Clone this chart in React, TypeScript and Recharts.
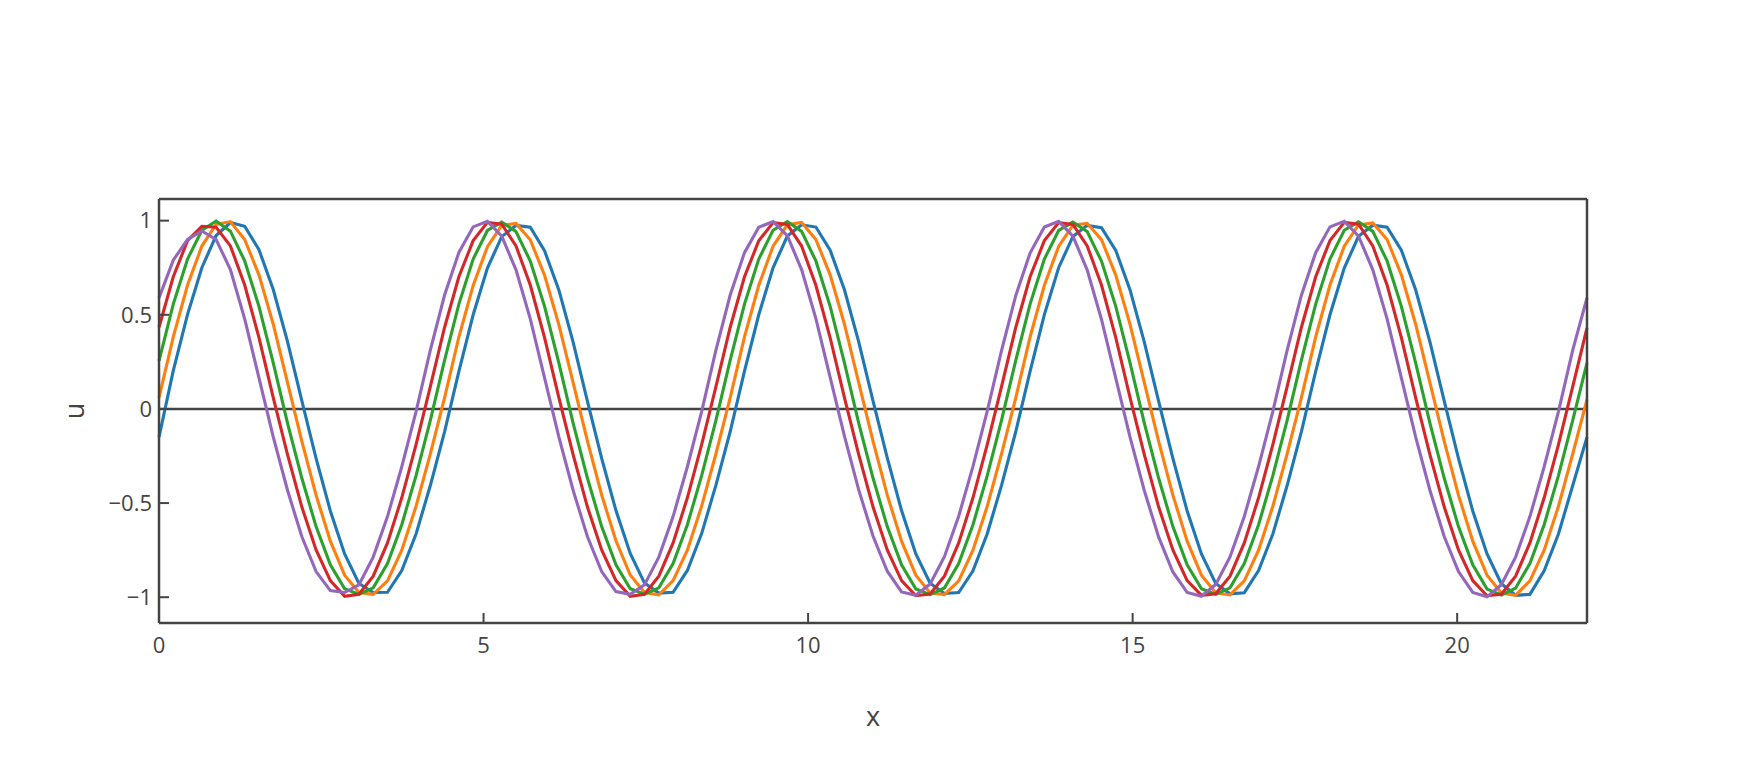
import { LineChart, Line, XAxis, YAxis, ReferenceLine } from "recharts";

// sample positions along x
const xs = [
  0, 0.22, 0.44, 0.66, 0.88, 1.1, 1.32, 1.54, 1.76, 1.98, 2.2, 2.42, 2.64, 2.86, 3.08, 3.3, 3.52, 3.74, 3.96, 4.18,
  4.4, 4.62, 4.84, 5.06, 5.28, 5.5, 5.72, 5.94, 6.16, 6.38, 6.6, 6.82, 7.04, 7.26, 7.48, 7.7, 7.92, 8.14, 8.36, 8.58,
  8.8, 9.02, 9.24, 9.46, 9.68, 9.9, 10.12, 10.34, 10.56, 10.78, 11, 11.22, 11.44, 11.66, 11.88, 12.1, 12.32, 12.54, 12.76, 12.98,
  13.2, 13.42, 13.64, 13.86, 14.08, 14.3, 14.52, 14.74, 14.96, 15.18, 15.4, 15.62, 15.84, 16.06, 16.28, 16.5, 16.72, 16.94, 17.16, 17.38,
  17.6, 17.82, 18.04, 18.26, 18.48, 18.7, 18.92, 19.14, 19.36, 19.58, 19.8, 20.02, 20.24, 20.46, 20.68, 20.9, 21.12, 21.34, 21.56, 21.78,
  22,
];

const blue = [
  -0.15, 0.203, 0.502, 0.75, 0.921, 0.99, 0.97, 0.846, 0.634, 0.357, 0.044, -0.262, -0.542, -0.77, -0.927, -0.975, -0.974, -0.859, -0.664, -0.407,
  -0.12, 0.2, 0.5, 0.748, 0.915, 0.975, 0.965, 0.84, 0.632, 0.355, 0.042, -0.262, -0.54, -0.768, -0.925, -0.978, -0.974, -0.858, -0.662, -0.405,
  -0.12, 0.201, 0.5, 0.749, 0.918, 0.978, 0.966, 0.843, 0.633, 0.356, 0.043, -0.26, -0.54, -0.77, -0.926, -0.98, -0.975, -0.86, -0.663, -0.406,
  -0.12, 0.2, 0.501, 0.75, 0.916, 0.975, 0.963, 0.842, 0.632, 0.355, 0.042, -0.262, -0.542, -0.77, -0.927, -0.982, -0.976, -0.859, -0.664, -0.407,
  -0.12, 0.2, 0.5, 0.748, 0.917, 0.976, 0.965, 0.843, 0.633, 0.356, 0.043, -0.262, -0.542, -0.77, -0.928, -0.99, -0.985, -0.86, -0.664, -0.407,
  -0.15,
];

const orange = [
  0.06, 0.383, 0.658, 0.865, 0.98, 0.995, 0.9, 0.712, 0.45, 0.14, -0.171, -0.458, -0.702, -0.883, -0.975, -0.985, -0.913, -0.75, -0.517, -0.239,
  0.06, 0.382, 0.656, 0.862, 0.975, 0.985, 0.898, 0.71, 0.448, 0.14, -0.17, -0.457, -0.7, -0.882, -0.975, -0.987, -0.912, -0.75, -0.516, -0.238,
  0.06, 0.383, 0.657, 0.864, 0.978, 0.99, 0.9, 0.712, 0.45, 0.14, -0.171, -0.458, -0.702, -0.883, -0.977, -0.986, -0.913, -0.75, -0.517, -0.239,
  0.06, 0.382, 0.657, 0.863, 0.976, 0.986, 0.899, 0.711, 0.449, 0.14, -0.171, -0.458, -0.702, -0.883, -0.976, -0.988, -0.913, -0.75, -0.517, -0.239,
  0.06, 0.383, 0.658, 0.864, 0.977, 0.988, 0.9, 0.712, 0.45, 0.14, -0.171, -0.458, -0.702, -0.883, -0.978, -0.99, -0.913, -0.75, -0.517, -0.239,
  0.05,
];

const green = [
  0.255, 0.557, 0.796, 0.949, 0.998, 0.944, 0.786, 0.545, 0.244, -0.075, -0.367, -0.625, -0.828, -0.955, -0.985, -0.95, -0.821, -0.615, -0.354, -0.061,
  0.259, 0.557, 0.796, 0.948, 0.993, 0.942, 0.785, 0.545, 0.244, -0.075, -0.367, -0.625, -0.828, -0.955, -0.984, -0.95, -0.821, -0.615, -0.354, -0.061,
  0.259, 0.557, 0.796, 0.949, 0.995, 0.943, 0.786, 0.545, 0.244, -0.075, -0.367, -0.625, -0.828, -0.956, -0.986, -0.951, -0.821, -0.615, -0.354, -0.061,
  0.259, 0.557, 0.796, 0.948, 0.992, 0.942, 0.785, 0.545, 0.244, -0.075, -0.367, -0.625, -0.828, -0.955, -0.985, -0.95, -0.821, -0.615, -0.354, -0.061,
  0.259, 0.557, 0.796, 0.949, 0.994, 0.943, 0.786, 0.545, 0.244, -0.075, -0.367, -0.625, -0.828, -0.957, -0.988, -0.952, -0.821, -0.615, -0.354, -0.061,
  0.245,
];

const red = [
  0.434, 0.702, 0.894, 0.97, 0.965, 0.866, 0.658, 0.379, 0.06, -0.243, -0.52, -0.749, -0.912, -0.995, -0.984, -0.888, -0.712, -0.472, -0.19, 0.119,
  0.434, 0.702, 0.894, 0.991, 0.981, 0.866, 0.658, 0.379, 0.06, -0.243, -0.52, -0.749, -0.912, -0.995, -0.984, -0.888, -0.712, -0.472, -0.19, 0.119,
  0.434, 0.702, 0.893, 0.99, 0.98, 0.865, 0.657, 0.378, 0.06, -0.243, -0.52, -0.749, -0.912, -0.992, -0.983, -0.888, -0.712, -0.472, -0.19, 0.119,
  0.434, 0.702, 0.894, 0.99, 0.98, 0.866, 0.658, 0.379, 0.06, -0.243, -0.52, -0.749, -0.912, -0.99, -0.982, -0.888, -0.712, -0.472, -0.19, 0.119,
  0.434, 0.702, 0.894, 0.991, 0.981, 0.866, 0.658, 0.379, 0.06, -0.243, -0.52, -0.749, -0.912, -0.992, -0.984, -0.888, -0.712, -0.472, -0.19, 0.119,
  0.43,
];

const purple = [
  0.59, 0.79, 0.9, 0.945, 0.9, 0.74, 0.478, 0.165, -0.148, -0.432, -0.678, -0.864, -0.965, -0.975, -0.934, -0.787, -0.572, -0.307, -0.014, 0.312,
  0.605, 0.831, 0.967, 0.997, 0.918, 0.739, 0.478, 0.165, -0.148, -0.432, -0.678, -0.864, -0.97, -0.985, -0.934, -0.787, -0.572, -0.307, -0.014, 0.312,
  0.605, 0.83, 0.965, 0.995, 0.92, 0.74, 0.48, 0.168, -0.145, -0.43, -0.675, -0.862, -0.972, -0.99, -0.93, -0.785, -0.57, -0.305, -0.012, 0.31,
  0.603, 0.828, 0.966, 0.996, 0.918, 0.738, 0.476, 0.163, -0.15, -0.434, -0.68, -0.866, -0.975, -0.995, -0.932, -0.786, -0.571, -0.306, -0.013, 0.311,
  0.604, 0.83, 0.967, 0.997, 0.918, 0.739, 0.478, 0.165, -0.148, -0.432, -0.678, -0.864, -0.975, -0.998, -0.934, -0.787, -0.572, -0.307, -0.014, 0.312,
  0.59,
];

const xTicks = [0, 5, 10, 15, 20];
const yTicks = [-1, -0.5, 0, 0.5, 1];

const data = xs.map((x, i) => ({
  x,
  blue: blue[i],
  orange: orange[i],
  green: green[i],
  red: red[i],
  purple: purple[i],
}));

const INK = "#444";
const FONT = "Open Sans";
const tickStyle = { fontSize: 22, fill: INK, fontFamily: FONT };
const fmt = (v: number) => (v < 0 ? "\u2212" + Math.abs(v) : String(v));
const LW = 3.1;

export default function App() {
  return (
    <div style={{ position: "absolute", left: 0, top: 0, width: 1746, height: 782, background: "#fff" }}>
      <LineChart
        width={1746}
        height={782}
        data={data}
        margin={{ top: 179, right: 139, bottom: 99, left: 99 }}
      >
        <XAxis
          dataKey="x"
          type="number"
          domain={[0, 22]}
          ticks={xTicks}
          interval={0}
          height={60}
          tickSize={-10}
          tickMargin={24}
          tick={tickStyle}
          axisLine={{ stroke: INK, strokeWidth: 2.5 }}
          tickLine={{ stroke: INK, strokeWidth: 2 }}
          label={() => (
            <text x={873} y={726} textAnchor="middle" fontSize={27} fill={INK} fontFamily={FONT}>
              x
            </text>
          )}
        />
        <XAxis
          xAxisId="top"
          orientation="top"
          type="number"
          domain={[0, 22]}
          ticks={xTicks}
          interval={0}
          height={20}
          tickSize={-10}
          tick={false}
          axisLine={{ stroke: INK, strokeWidth: 2.5 }}
          tickLine={{ stroke: INK, strokeWidth: 2 }}
        />
        <YAxis
          type="number"
          domain={[-1.137, 1.115]}
          ticks={yTicks}
          interval={0}
          allowDataOverflow
          width={60}
          tickSize={-10}
          tickMargin={17}
          tick={tickStyle}
          tickFormatter={fmt}
          axisLine={{ stroke: INK, strokeWidth: 2.5 }}
          tickLine={{ stroke: INK, strokeWidth: 2 }}
          label={() => (
            <text
              x={84}
              y={411}
              textAnchor="middle"
              fontSize={27}
              fill={INK}
              fontFamily={FONT}
              transform="rotate(-90, 84, 411)"
            >
              u
            </text>
          )}
        />
        <YAxis
          yAxisId="right"
          orientation="right"
          type="number"
          domain={[-1.137, 1.115]}
          ticks={yTicks}
          interval={0}
          allowDataOverflow
          width={20}
          tickSize={-10}
          tick={false}
          axisLine={{ stroke: INK, strokeWidth: 2.5 }}
          tickLine={{ stroke: INK, strokeWidth: 2 }}
        />
        <ReferenceLine y={0} stroke={INK} strokeWidth={2.4} />
        <Line type="linear" dataKey="blue" stroke="#1f77b4" strokeWidth={LW} dot={false} isAnimationActive={false} />
        <Line type="linear" dataKey="orange" stroke="#ff7f0e" strokeWidth={LW} dot={false} isAnimationActive={false} />
        <Line type="linear" dataKey="green" stroke="#2ca02c" strokeWidth={LW} dot={false} isAnimationActive={false} />
        <Line type="linear" dataKey="red" stroke="#d62728" strokeWidth={LW} dot={false} isAnimationActive={false} />
        <Line type="linear" dataKey="purple" stroke="#9467bd" strokeWidth={LW} dot={false} isAnimationActive={false} />
      </LineChart>
    </div>
  );
}
